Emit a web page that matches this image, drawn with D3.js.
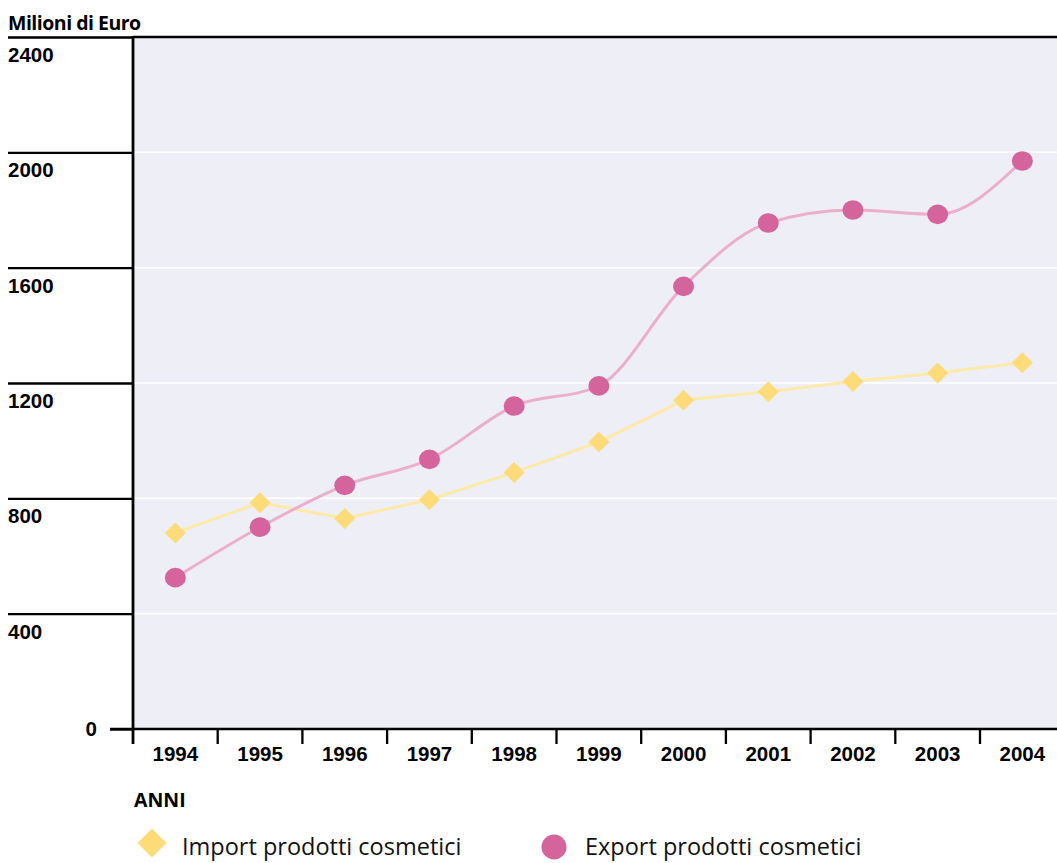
<!DOCTYPE html>
<html>
<head>
<meta charset="utf-8">
<script src="https://cdn.jsdelivr.net/npm/d3@7"></script>
<style>
  html, body { margin: 0; padding: 0; background: #fff; }
  svg { display: block; font-family: "Open Sans", "Noto Sans", sans-serif; }
</style>
</head>
<body>
<svg id="chart" width="1057" height="863"></svg>
<script>
// Italian cosmetics trade, million euro per year
const years = ["1994","1995","1996","1997","1998","1999","2000","2001","2002","2003","2004"];
const importValues = [680, 785, 730, 795, 890, 995, 1140, 1170, 1205, 1235, 1270];
const exportValues = [525, 700, 845, 935, 1120, 1190, 1535, 1755, 1800, 1785, 1970];
const yTicks = [0, 400, 800, 1200, 1600, 2000, 2400];
const seriesNames = ["Import prodotti cosmetici", "Export prodotti cosmetici"];

(function () {
const svg = d3.select("#chart");
const W = 1057;
const plotLeft = 133, plotTop = 37, plotBottom = 729;
const step = 84.7;
const labelSize = 20.5;

const x = d3.scaleBand().domain(years).range([plotLeft, plotLeft + step * years.length]).padding(0);
const y = d3.scaleLinear().domain([0, 2400]).range([plotBottom, plotTop]);
const cx = d => x(d) + x.bandwidth() / 2;

const colors = {
  bg: "#eeeef7",
  impMark: "#fcdb78", impLine: "#feeaa8",
  expMark: "#d5649c", expLine: "#ebafcd"
};

// plot background
svg.append("rect")
  .attr("x", plotLeft).attr("y", plotTop)
  .attr("width", W - plotLeft).attr("height", plotBottom - plotTop)
  .attr("fill", colors.bg);

// white gridlines
svg.append("g")
  .selectAll("line")
  .data(yTicks.filter(v => v > 0 && v < 2400))
  .join("line")
  .attr("x1", plotLeft).attr("x2", W)
  .attr("y1", d => y(d)).attr("y2", d => y(d))
  .attr("stroke", "#ffffff").attr("stroke-width", 1.5);

// top border
svg.append("line")
  .attr("x1", plotLeft).attr("x2", W)
  .attr("y1", y(2400)).attr("y2", y(2400))
  .attr("stroke", "#000").attr("stroke-width", 2.5);

// y axis: long ticks to the left with labels beneath them
const yAxis = svg.append("g")
  .attr("transform", `translate(${plotLeft},0)`)
  .call(d3.axisLeft(y).tickValues(yTicks).tickSize(125).tickSizeOuter(0).tickFormat(d3.format("d")));
yAxis.select(".domain").remove();
yAxis.selectAll(".tick line").attr("stroke", "#000").attr("stroke-width", 2.3)
  .attr("x2", d => d === 0 ? -23 : -125);
yAxis.selectAll(".tick text")
  .attr("fill", "#000")
  .attr("font-size", labelSize).attr("font-weight", 700)
  .attr("text-anchor", d => d === 0 ? "end" : "start")
  .attr("x", d => d === 0 ? -36 : -125)
  .attr("dy", d => d === 0 ? "0.34em" : "1.2em");

// y axis line, extended below the baseline
svg.append("line")
  .attr("x1", plotLeft).attr("x2", plotLeft)
  .attr("y1", plotTop - 1).attr("y2", plotBottom + 15)
  .attr("stroke", "#000").attr("stroke-width", 2.8);

// x axis
const xAxis = svg.append("g")
  .attr("transform", `translate(0,${plotBottom})`)
  .call(d3.axisBottom(x).tickSize(0).tickSizeOuter(0));
xAxis.select(".domain").remove();
xAxis.selectAll(".tick text")
  .attr("fill", "#000").attr("font-size", labelSize).attr("font-weight", 700)
  .attr("dy", null).attr("y", 32);

svg.append("line")
  .attr("x1", plotLeft - 23).attr("x2", W)
  .attr("y1", plotBottom).attr("y2", plotBottom)
  .attr("stroke", "#000").attr("stroke-width", 2.6);

// category separators under the axis
svg.append("g")
  .selectAll("line")
  .data(years.slice(1))
  .join("line")
  .attr("x1", d => x(d)).attr("x2", d => x(d))
  .attr("y1", plotBottom).attr("y2", plotBottom + 15)
  .attr("stroke", "#000").attr("stroke-width", 2.3);

// titles
svg.append("text")
  .attr("x", 8).attr("y", 30)
  .attr("font-size", 19.5).attr("font-weight", 700)
  .attr("letter-spacing", -0.5)
  .text("Milioni di Euro");

svg.append("text")
  .attr("x", 134).attr("y", 807)
  .attr("font-size", 19.5).attr("font-weight", 700)
  .text("ANNI");

// series lines
const impLine = d3.line().x((d, i) => cx(years[i])).y(d => y(d));
const expLine = d3.line().x((d, i) => cx(years[i])).y(d => y(d)).curve(d3.curveMonotoneX);

svg.append("path")
  .attr("d", impLine(importValues))
  .attr("fill", "none").attr("stroke", colors.impLine).attr("stroke-width", 3);

svg.append("path")
  .attr("d", expLine(exportValues))
  .attr("fill", "none").attr("stroke", colors.expLine).attr("stroke-width", 3);

// markers
const diamond = (px, py, r) => `M${px},${py - r}L${px + r},${py}L${px},${py + r}L${px - r},${py}Z`;

svg.append("g")
  .selectAll("path")
  .data(importValues)
  .join("path")
  .attr("d", (d, i) => diamond(cx(years[i]), y(d), 10.5))
  .attr("fill", colors.impMark);

svg.append("g")
  .selectAll("ellipse")
  .data(exportValues)
  .join("ellipse")
  .attr("cx", (d, i) => cx(years[i]))
  .attr("cy", d => y(d))
  .attr("rx", 10.5).attr("ry", 9.8)
  .attr("fill", colors.expMark);

// legend
const legend = svg.append("g");
legend.append("path")
  .attr("d", diamond(152, 843, 14.5))
  .attr("fill", colors.impMark);
legend.append("text")
  .attr("x", 182).attr("y", 855)
  .attr("font-size", 23.5).attr("fill", "#111")
  .text(seriesNames[0]);

legend.append("circle")
  .attr("cx", 554).attr("cy", 847).attr("r", 12.5)
  .attr("fill", colors.expMark);
legend.append("text")
  .attr("x", 585).attr("y", 855)
  .attr("font-size", 23.5).attr("fill", "#111")
  .text(seriesNames[1]);
})();
</script>
</body>
</html>
